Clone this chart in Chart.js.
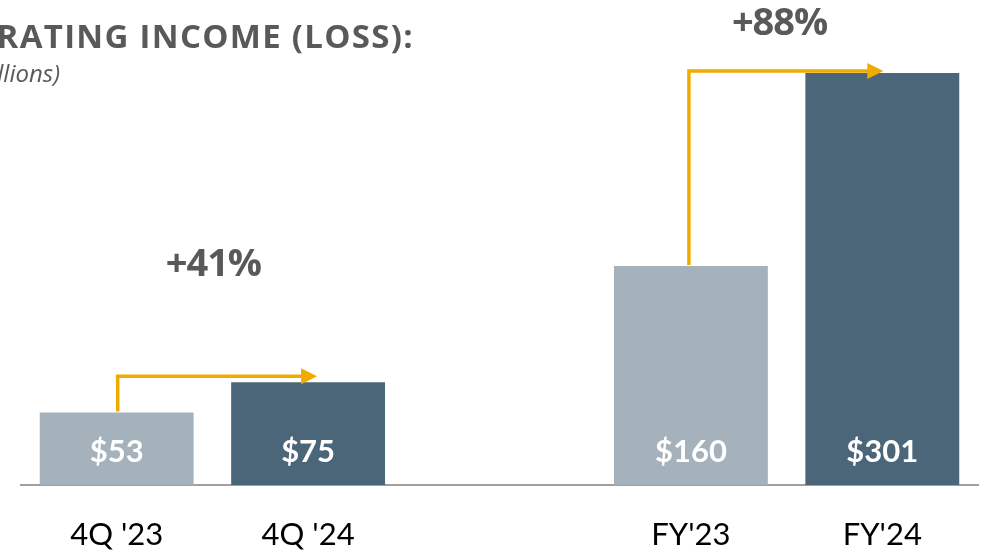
<!DOCTYPE html>
<html><head><meta charset="utf-8">
<script src="https://cdn.jsdelivr.net/npm/chart.js@4/dist/chart.umd.min.js"></script>
<style>html,body{margin:0;padding:0;background:#fff;overflow:hidden}#wrap{width:990px;height:554px;position:relative}</style>
</head><body><div id="wrap"><canvas id="c" width="990" height="554"></canvas></div>
<script>
// ---- data ----
const categories = ["4Q '23", "4Q '24", "", "FY'23", "FY'24"];
const values = [53, 75, null, 160, 301];
const valueLabels = ["$53", "$75", "", "$160", "$301"];
const growthLabels = ["+41%", "+88%"];
const growthPairs = [[0, 1], [3, 4]];
const titleText = "OPERATING INCOME (LOSS):";
const subtitleText = "($ in millions)";

// ---- styles ----
const barColors = ["#A5B2BB", "#4B6679", "#A5B2BB", "#A5B2BB", "#4B6679"];
const arrowColor = "#F0AB00";
const textGray = "#595959";
const arrowStyle = [{rise: 6, tip: 9, dx: 1, lx: 1, ly: 100}, {rise: 2, tip: 1, dx: -2, lx: -7, ly: 36}];

const overlay = {
  id: 'overlay',
  afterDatasetsDraw(chart) {
    const ctx = chart.ctx;
    const meta = chart.getDatasetMeta(0);
    const bottom = chart.chartArea.bottom;
    ctx.save();
    // value labels inside bars
    ctx.fillStyle = '#FFFFFF';
    ctx.font = 'bold 31px Lato';
    ctx.textAlign = 'center';
    ctx.textBaseline = 'alphabetic';
    meta.data.forEach((bar, i) => {
      if (values[i] == null) return;
      ctx.fillText(valueLabels[i], bar.x, bottom - 23);
    });
    // arrows + growth labels
    growthPairs.forEach((pair, k) => {
      const a = meta.data[pair[0]], b = meta.data[pair[1]];
      const st = arrowStyle[k];
      const yLevel = b.y - st.rise;
      const x0 = a.x + st.dx;
      const xEnd = b.x + st.tip;
      const head = 16;
      ctx.strokeStyle = arrowColor;
      ctx.lineWidth = 3.5;
      ctx.lineJoin = 'miter';
      ctx.beginPath();
      ctx.moveTo(x0, a.y - 1);
      ctx.lineTo(x0, yLevel);
      ctx.lineTo(xEnd - head + 2, yLevel);
      ctx.stroke();
      ctx.fillStyle = arrowColor;
      ctx.beginPath();
      ctx.moveTo(xEnd - head, yLevel - 8);
      ctx.lineTo(xEnd, yLevel);
      ctx.lineTo(xEnd - head, yLevel + 8);
      ctx.closePath();
      ctx.fill();
      ctx.fillStyle = textGray;
      ctx.font = 'bold 38px "Open Sans"';
      ctx.letterSpacing = '-1px';
      ctx.textAlign = 'center';
      ctx.fillText(growthLabels[k], (a.x + b.x) / 2 + st.lx, yLevel - st.ly);
      ctx.letterSpacing = '0px';
    });
    // title & subtitle (cropped at left edge as in the reference)
    ctx.fillStyle = textGray;
    ctx.textAlign = 'right';
    ctx.font = 'bold 33px "Open Sans"';
    ctx.letterSpacing = '1.3px';
    ctx.fillText(titleText, 414, 48);
    ctx.letterSpacing = '0px';
    ctx.font = 'italic 24px "Open Sans"';
    ctx.fillText(subtitleText, 60, 82);
    ctx.restore();
  }
};

new Chart(document.getElementById('c'), {
  type: 'bar',
  data: {
    labels: categories,
    datasets: [{
      data: values,
      backgroundColor: barColors,
      borderWidth: 0,
      categoryPercentage: 1,
      barPercentage: 0.804
    }]
  },
  options: {
    responsive: false,
    animation: false,
    devicePixelRatio: 1,
    layout: {padding: {left: 21, right: 12, top: 6, bottom: 0}},
    plugins: {legend: {display: false}, tooltip: {enabled: false}, title: {display: false}},
    scales: {
      x: {
        grid: {display: false, drawTicks: false},
        border: {display: true, color: '#A0A0A0', width: 2},
        ticks: {color: '#000000', font: {family: 'Lato', size: 31}, padding: 31, maxRotation: 0},
        afterFit(scale) { scale.height = 69; }
      },
      y: {display: false, min: 0, max: 350}
    }
  },
  plugins: [overlay]
});
</script>
</body></html>
